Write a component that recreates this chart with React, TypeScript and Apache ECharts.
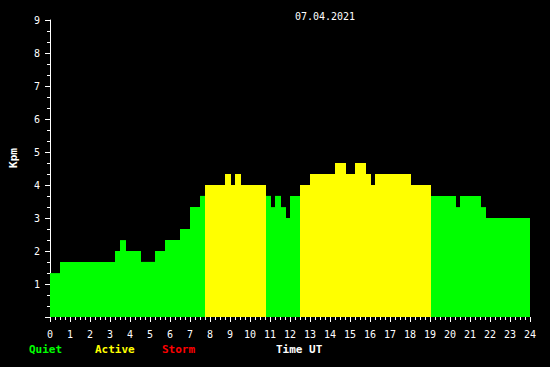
import React, { useEffect, useRef } from "react";
import * as echarts from "echarts";

const title = "07.04.2021";
const yAxisName = "Kpm";
const xAxisName = "Time UT";
const legendLabels = ["Quiet", "Active", "Storm"];
const legendColors = ["#00ff00", "#ffff00", "#ff0000"];

// step boundaries (hours UT) and Kp value of each step
const stepTimes = [
  0, 0.5, 3.25, 3.5, 3.8, 4.55, 5.25, 5.75, 6.5, 7.0, 7.5, 7.75, 8.75, 9.05, 9.25,
  9.55, 10.8, 11.05, 11.25, 11.55, 11.8, 12.0, 12.5, 13.0, 14.25, 14.8, 15.25,
  15.8, 16.05, 16.25, 18.05, 19.05, 20.3, 20.5, 21.55, 21.8, 24,
];
const kpValues = [
  1.33, 1.67, 2.0, 2.33, 2.0, 1.67, 2.0, 2.33, 2.67, 3.33, 3.67, 4.0, 4.33, 4.0,
  4.33, 4.0, 3.67, 3.33, 3.67, 3.33, 3.0, 3.67, 4.0, 4.33, 4.67, 4.33, 4.67,
  4.33, 4.0, 4.33, 4.0, 3.67, 3.33, 3.67, 3.33, 3.0,
];

const FONT = "DejaVu Sans Mono";

export default function App() {
  const ref = useRef<HTMLDivElement>(null);
  useEffect(() => {
    if (!ref.current) return;
    const chart = echarts.init(ref.current, undefined, { renderer: "svg" });
    const data = kpValues.map((v, i) => [stepTimes[i], stepTimes[i + 1], v]);
    const colorFor = (v: number) =>
      v >= 5 ? legendColors[2] : v >= 4 ? legendColors[1] : legendColors[0];
    chart.setOption({
      animation: false,
      backgroundColor: "#000000",
      title: {
        text: title,
        left: 320,
        top: 6,
        textAlign: "center",
        textStyle: { color: "#ffffff", fontFamily: FONT, fontSize: 10, fontWeight: "normal" },
      },
      grid: { left: 50, right: 20, top: 20, bottom: 50 },
      xAxis: {
        type: "value",
        min: 0,
        max: 24,
        interval: 1,
        splitLine: { show: false },
        axisLine: { show: false },
        axisTick: { show: true, length: 5, lineStyle: { color: "#ffffff" } },
        minorTick: { show: true, splitNumber: 4, length: 3, lineStyle: { color: "#ffffff" } },
        axisLabel: { color: "#ffffff", fontFamily: FONT, fontSize: 10, margin: 12 },
      },
      yAxis: {
        type: "value",
        min: 0,
        max: 9,
        interval: 1,
        splitLine: { show: false },
        axisLine: { show: true, lineStyle: { color: "#ffffff" } },
        axisTick: { show: true, length: 5, lineStyle: { color: "#ffffff" } },
        minorTick: { show: true, splitNumber: 3, length: 3, lineStyle: { color: "#ffffff" } },
        axisLabel: {
          color: "#ffffff",
          fontFamily: FONT,
          fontSize: 10,
          margin: 10,
          formatter: (v: number) => (v === 0 ? "" : String(v)),
        },
      },
      series: [
        {
          type: "custom",
          data,
          encode: { x: [0, 1], y: 2 },
          renderItem: (params: any, api: any) => {
            const v = api.value(2);
            const a = api.coord([api.value(0), v]);
            const b = api.coord([api.value(1), 0]);
            return {
              type: "rect",
              shape: { x: a[0], y: a[1], width: b[0] - a[0], height: b[1] - a[1] },
              style: { fill: colorFor(v) },
            };
          },
        },
      ],
      graphic: [
        {
          type: "text",
          x: 13,
          y: 158,
          rotation: Math.PI / 2,
          style: {
            text: yAxisName,
            fill: "#ffffff",
            font: `bold 11px '${FONT}'`,
            align: "center",
            verticalAlign: "middle",
          },
        },
        ...legendLabels.map((t, i) => ({
          type: "text",
          x: [29, 95, 162][i],
          y: 349,
          style: {
            text: t,
            fill: legendColors[i],
            font: `bold 11px '${FONT}'`,
            verticalAlign: "middle",
          },
        })),
        {
          type: "text",
          x: 276,
          y: 349,
          style: {
            text: xAxisName,
            fill: "#ffffff",
            font: `bold 11px '${FONT}'`,
            verticalAlign: "middle",
          },
        },
      ],
    });
    return () => chart.dispose();
  }, []);
  return (
    <div
      ref={ref}
      style={{ position: "fixed", left: 0, top: 0, width: 550, height: 367, background: "#000" }}
    />
  );
}
